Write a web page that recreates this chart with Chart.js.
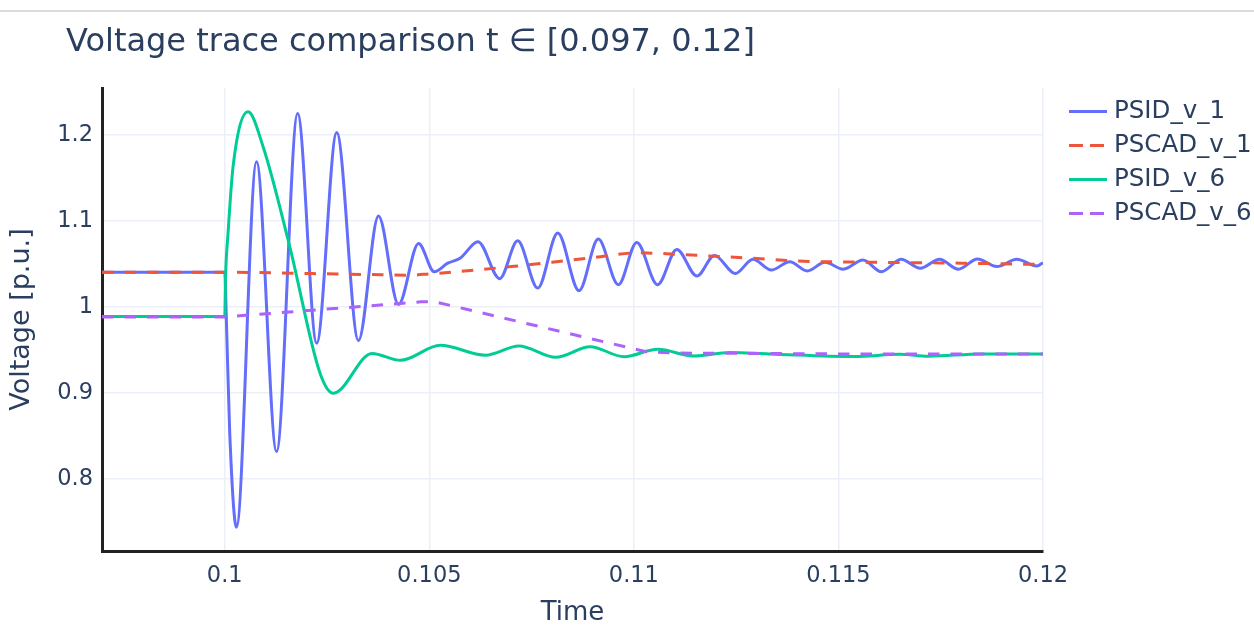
<!DOCTYPE html>
<html><head><meta charset="utf-8">
<script src="https://cdn.jsdelivr.net/npm/chart.js@4.4.1/dist/chart.umd.min.js"></script>
<style>html,body{margin:0;padding:0;background:#fff;}#wrap{position:relative;width:1254px;height:634px;}canvas{display:block;}</style>
</head><body><div id="wrap"><canvas id="c" width="1254" height="634"></canvas></div>
<script>
const chartTitle = 'Voltage trace comparison t \u2208 [0.097, 0.12]';
const xAxisTitle = 'Time';
const yAxisTitle = 'Voltage [p.u.]';
const seriesNames = ['PSID_v_1', 'PSCAD_v_1', 'PSID_v_6', 'PSCAD_v_6'];
const xTicks = [0.1, 0.105, 0.11, 0.115, 0.12];
const xTickLabels = ['0.1', '0.105', '0.11', '0.115', '0.12'];
const yTicks = [0.8, 0.9, 1, 1.1, 1.2];
const yTickLabels = ['0.8', '0.9', '1', '1.1', '1.2'];

const psidV1Time = [0.097, 0.1, 0.10004, 0.100122, 0.100287, 0.100777, 0.101267, 0.101782, 0.102247, 0.102737, 0.103268, 0.103758, 0.104248, 0.104738, 0.10512, 0.10545, 0.10576, 0.10619, 0.10672, 0.10716, 0.10765, 0.10814, 0.10866, 0.10913, 0.10962, 0.11007, 0.11058, 0.11105, 0.11154, 0.11197, 0.11248, 0.11291, 0.11336, 0.11381, 0.11424, 0.11467, 0.11512, 0.1156, 0.11605, 0.11653, 0.117, 0.11747, 0.11793, 0.1184, 0.11887, 0.11936, 0.11985, 0.12];
const psidV1 = [1.0405, 1.0405, 0.985, 0.8535, 0.744, 1.169, 0.832, 1.225, 0.958, 1.203, 0.961, 1.106, 1.003, 1.074, 1.041, 1.051, 1.057, 1.076, 1.033, 1.077, 1.022, 1.086, 1.019, 1.079, 1.026, 1.075, 1.026, 1.067, 1.036, 1.060, 1.039, 1.0555, 1.043, 1.0527, 1.042, 1.052, 1.044, 1.0547, 1.041, 1.0555, 1.045, 1.0555, 1.044, 1.0558, 1.047, 1.0555, 1.0477, 1.0515];

const pscadV1Time = [0.097, 0.1, 0.102, 0.1035, 0.1045, 0.105, 0.106, 0.107, 0.108, 0.109, 0.1101, 0.111, 0.112, 0.113, 0.114, 0.116, 0.118, 0.12];
const pscadV1 = [1.0405, 1.0405, 1.039, 1.0378, 1.037, 1.0385, 1.0425, 1.047, 1.052, 1.0575, 1.063, 1.0615, 1.059, 1.0565, 1.0535, 1.052, 1.051, 1.0495];

const psidV6Time = [0.097, 0.1, 0.10002, 0.100081, 0.100203, 0.10057, 0.10094, 0.10159, 0.10233, 0.102655, 0.1036, 0.10429, 0.10527, 0.10637, 0.10719, 0.10809, 0.10893, 0.10976, 0.11058, 0.11148, 0.11234, 0.1133, 0.1154, 0.1165, 0.1172, 0.1185, 0.12];
const psidV6 = [0.989, 0.989, 1.035, 1.086, 1.163, 1.227, 1.186, 1.070, 0.923, 0.8997, 0.946, 0.938, 0.9555, 0.944, 0.9547, 0.9415, 0.9538, 0.9422, 0.9508, 0.943, 0.947, 0.9455, 0.9425, 0.945, 0.9428, 0.9455, 0.9455];

const pscadV6Time = [0.097, 0.1, 0.1048, 0.1051, 0.1103, 0.111, 0.115, 0.12];
const pscadV6 = [0.9885, 0.9885, 1.006, 1.0065, 0.948, 0.9465, 0.9455, 0.9455];

const seriesColors = ['#636efa', '#EF553B', '#00cc96', '#ab63fa'];
const seriesDashed = [false, true, false, true];
const seriesMode = ['monotone', 'monotone', 'monotone', 'linear'];

const FONT = 'DejaVu Sans';
const TXT = '#2a3f5f';

function pts(t, v) { return t.map((x, i) => ({ x: x, y: v[i] })); }
function lbl(ticks, labels, v) {
  for (let i = 0; i < ticks.length; i++) if (Math.abs(ticks[i] - v) < 1e-9) return labels[i];
  return '';
}

const seriesData = [pts(psidV1Time, psidV1), pts(pscadV1Time, pscadV1), pts(psidV6Time, psidV6), pts(pscadV6Time, pscadV6)];

const datasets = seriesNames.map((n, i) => {
  const d = {
    label: n,
    data: seriesData[i],
    borderColor: seriesColors[i],
    backgroundColor: seriesColors[i],
    borderWidth: 3,
    borderDash: seriesDashed[i] ? [11.5, 11] : [],
    pointRadius: 0,
    fill: false,
    order: seriesNames.length - 1 - i
  };
  if (seriesMode[i] === 'monotone') d.cubicInterpolationMode = 'monotone';
  else d.tension = 0;
  return d;
});

const decor = {
  id: 'decor',
  beforeDraw(chart) {
    const ctx = chart.ctx;
    ctx.save();
    ctx.strokeStyle = '#cfcfcf';
    ctx.lineWidth = 1.5;
    ctx.beginPath(); ctx.moveTo(0, 11); ctx.lineTo(1254, 11); ctx.stroke();
    ctx.restore();
  },
  afterDraw(chart) {
    const ctx = chart.ctx;
    ctx.save();
    ctx.fillStyle = TXT;
    ctx.font = '32px "' + FONT + '"';
    ctx.textBaseline = 'alphabetic';
    ctx.textAlign = 'left';
    ctx.fillText(chartTitle, 66, 51);
    ctx.font = '24.5px "' + FONT + '"';
    ctx.textBaseline = 'middle';
    for (let i = 0; i < seriesNames.length; i++) {
      const y = 111.5 + i * 34;
      ctx.strokeStyle = seriesColors[i];
      ctx.lineWidth = 3;
      ctx.setLineDash(seriesDashed[i] ? [14, 7] : []);
      ctx.beginPath(); ctx.moveTo(1069, y); ctx.lineTo(1107, y); ctx.stroke();
      ctx.setLineDash([]);
      ctx.fillStyle = TXT;
      ctx.fillText(seriesNames[i], 1114, y);
    }
    ctx.restore();
  }
};

new Chart(document.getElementById('c'), {
  type: 'line',
  data: { datasets: datasets },
  options: {
    responsive: false,
    animation: false,
    devicePixelRatio: 1,
    layout: { padding: { top: 88, right: 211, left: 0, bottom: 0 } },
    plugins: { legend: { display: false }, tooltip: { enabled: false }, title: { display: false } },
    scales: {
      x: {
        type: 'linear', min: 0.097, max: 0.12,
        afterBuildTicks: s => { s.ticks = xTicks.map(v => ({ value: v })); },
        afterFit: s => { s.height = 83; },
        ticks: { callback: v => lbl(xTicks, xTickLabels, v), font: { family: FONT, size: 22.5 }, color: TXT, padding: 12, maxRotation: 0, autoSkip: false },
        grid: { color: '#ebf0f8', lineWidth: 1.5, drawTicks: false },
        border: { display: true, color: '#222', width: 3 },
        title: { display: true, text: xAxisTitle, font: { family: FONT, size: 26, lineHeight: 1.2 }, color: TXT, padding: { top: 0, bottom: 5 } }
      },
      y: {
        type: 'linear', min: 0.7163, max: 1.2547,
        afterBuildTicks: s => { s.ticks = yTicks.map(v => ({ value: v })); },
        afterFit: s => { s.width = 102; },
        ticks: { callback: v => lbl(yTicks, yTickLabels, v), font: { family: FONT, size: 22.5 }, color: TXT, padding: 9, autoSkip: false },
        grid: { color: '#ebf0f8', lineWidth: 1.5, drawTicks: false },
        border: { display: true, color: '#222', width: 3 },
        title: { display: true, text: yAxisTitle, font: { family: FONT, size: 27, lineHeight: 1.2 }, color: TXT, padding: { top: 6, bottom: 0 } }
      }
    }
  },
  plugins: [decor]
});
</script>
</body></html>
